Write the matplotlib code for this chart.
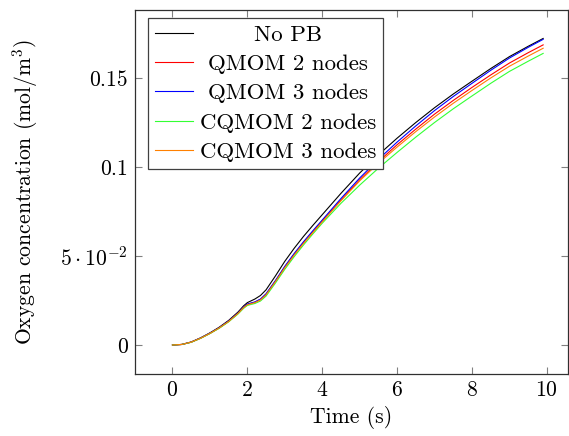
import numpy as np
import matplotlib
matplotlib.use('Agg')
import matplotlib.pyplot as plt

plt.rcParams['font.family'] = ['cmr10', 'DejaVu Serif']
plt.rcParams['mathtext.fontset'] = 'cm'
plt.rcParams['axes.formatter.use_mathtext'] = True

# time samples (s)
time = [0.0, 0.25, 0.5, 0.75, 1.0, 1.25, 1.5, 1.75, 1.9, 2.0, 2.1, 2.2, 2.35, 2.5, 2.75, 3.0,
        3.25, 3.5, 3.75, 4.0, 4.5, 5.0, 5.5, 6.0, 6.5, 7.0, 7.5, 8.0, 8.5, 9.0, 9.5, 9.9]

# oxygen concentration (mol/m^3)
no_pb = [0.0, 0.0003, 0.0017, 0.0040, 0.0068, 0.0100, 0.0138, 0.0185, 0.0220, 0.0238, 0.0248,
         0.0258, 0.0278, 0.0310, 0.0388, 0.0470, 0.0543, 0.0610, 0.0672, 0.0732, 0.0852, 0.0966,
         0.1068, 0.1162, 0.1250, 0.1333, 0.1410, 0.1482, 0.1553, 0.1620, 0.1678, 0.1722]
qmom2 = [0.0, 0.0003, 0.0016, 0.0038, 0.0065, 0.0096, 0.0133, 0.0178, 0.0211, 0.0228, 0.0234,
         0.0240, 0.0256, 0.0285, 0.0359, 0.0438, 0.0509, 0.0575, 0.0636, 0.0696, 0.0815, 0.0928,
         0.1030, 0.1125, 0.1213, 0.1297, 0.1374, 0.1447, 0.1517, 0.1584, 0.1642, 0.1686]
qmom3 = [0.0, 0.0003, 0.0016, 0.0039, 0.0066, 0.0097, 0.0134, 0.0179, 0.0213, 0.0230, 0.0236,
         0.0242, 0.0258, 0.0288, 0.0362, 0.0442, 0.0514, 0.0580, 0.0642, 0.0702, 0.0823, 0.0938,
         0.1043, 0.1140, 0.1231, 0.1317, 0.1396, 0.1470, 0.1543, 0.1612, 0.1672, 0.1717]
cqmom2 = [0.0, 0.0003, 0.0015, 0.0037, 0.0064, 0.0094, 0.0130, 0.0174, 0.0206, 0.0222, 0.0228,
          0.0233, 0.0247, 0.0275, 0.0348, 0.0425, 0.0496, 0.0562, 0.0624, 0.0684, 0.0796, 0.0898,
          0.0993, 0.1082, 0.1168, 0.1250, 0.1327, 0.1399, 0.1470, 0.1537, 0.1594, 0.1638]
cqmom3 = [0.0, 0.0003, 0.0016, 0.0038, 0.0065, 0.0096, 0.0132, 0.0177, 0.0210, 0.0226, 0.0232,
          0.0238, 0.0253, 0.0282, 0.0356, 0.0434, 0.0505, 0.0571, 0.0632, 0.0692, 0.0810, 0.0922,
          0.1021, 0.1112, 0.1199, 0.1281, 0.1358, 0.1430, 0.1500, 0.1566, 0.1623, 0.1667]

labels = ['No PB', 'QMOM 2 nodes', 'QMOM 3 nodes', 'CQMOM 2 nodes', 'CQMOM 3 nodes']
colors = ['black', '#ff0000', '#0000ff', '#33ff33', '#ff8000']
series = [no_pb, qmom2, qmom3, cqmom2, cqmom3]

FS = 15.6

fig = plt.figure(figsize=(5.69, 4.36), dpi=100)
ax = fig.add_axes([0.2373, 0.1422, 0.7607, 0.8349])

for y, c, lab in zip(series, colors, labels):
    ax.plot(time, y, color=c, lw=0.8, label=lab)

ax.set_xlim(-1.0, 10.56)
ax.set_ylim(-0.0163, 0.1882)
ax.set_xticks([0, 2, 4, 6, 8, 10])
ax.set_yticks([0, 0.05, 0.1, 0.15])
ax.set_yticklabels(['0', r'$5\cdot10^{-2}$', '0.1', '0.15'])
ax.tick_params(direction='in', top=True, right=True, length=5, width=0.8,
               color='#808080', labelsize=FS, pad=5)
for s in ax.spines.values():
    s.set_linewidth(0.9)
    s.set_color('#303030')

ax.set_xlabel('Time (s)', fontsize=FS, labelpad=4)
ax.set_ylabel(r'Oxygen concentration (mol/m$^3$)', fontsize=FS, labelpad=15)

leg = ax.legend(loc='upper left', bbox_to_anchor=(0.03, 0.978), fontsize=16.5,
                fancybox=False, edgecolor='#404040', framealpha=1,
                handlelength=1.65, handletextpad=0.3, borderpad=0.3,
                labelspacing=0.4, borderaxespad=0)
leg.get_frame().set_linewidth(0.9)

# centre the legend entries within the text column
fig.canvas.draw()
renderer = fig.canvas.get_renderer()
texts = leg.get_texts()
widths = [t.get_window_extent(renderer).width for t in texts]
wmax = max(widths)
for t, w in zip(texts, widths):
    t.set_x((wmax - w) / 2)

fig.savefig('out.png', dpi=100)
